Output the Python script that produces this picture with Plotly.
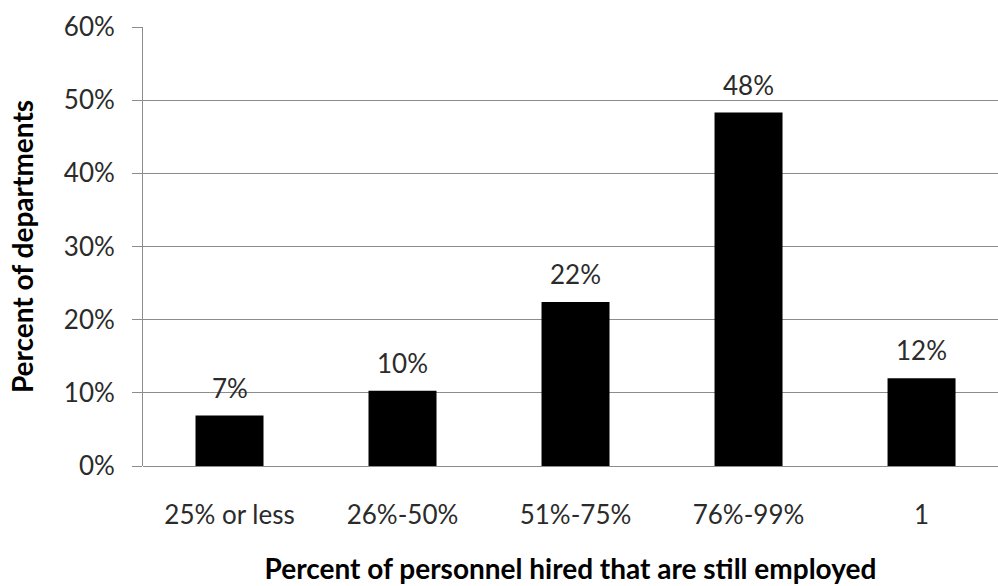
import plotly.graph_objects as go

categories = ["25% or less", "26%-50%", "51%-75%", "76%-99%", "1"]
share_of_departments = [0.069, 0.103, 0.224, 0.483, 0.120]
y_tick_values = [0, 0.1, 0.2, 0.3, 0.4, 0.5, 0.6]
y_tick_labels = ["0%", "10%", "20%", "30%", "40%", "50%", "60%"]

FONT = "Lato"
TEXT_COLOR = "#2b2b2b"
GRID_COLOR = "#8c8c8c"
TICK_SIZE = 26
TITLE_SIZE = 28

fig = go.Figure()
fig.add_trace(go.Bar(
    x=list(range(len(categories))),
    y=share_of_departments,
    marker=dict(color="black", line=dict(width=0)),
    width=0.393,
    showlegend=False,
    hoverinfo="skip",
))

# value labels above each bar
for i, v in enumerate(share_of_departments):
    fig.add_annotation(
        x=i, y=v, xref="x", yref="y",
        text=f"{round(v * 100):.0f}%",
        showarrow=False, yanchor="middle", yshift=28,
        font=dict(family=FONT, size=TICK_SIZE, color=TEXT_COLOR),
    )

fig.update_layout(
    width=998, height=586,
    margin=dict(l=143, r=0, t=27, b=120),
    paper_bgcolor="white", plot_bgcolor="white",
    font=dict(family=FONT, size=TICK_SIZE, color=TEXT_COLOR),
)

fig.update_xaxes(
    range=[-0.5, 4.442],
    tickvals=list(range(len(categories))),
    ticktext=categories,
    ticks="", showgrid=False, zeroline=False,
    showline=False,
    ticklabelstandoff=31,
    tickfont=dict(family=FONT, size=TICK_SIZE, color=TEXT_COLOR),
    title=dict(text="<b>Percent of personnel hired that are still employed</b>",
               font=dict(family=FONT, size=TITLE_SIZE, color="black"), standoff=30),
)

fig.update_yaxes(
    range=[0, 0.6],
    tickvals=y_tick_values, ticktext=y_tick_labels,
    ticks="outside", ticklen=10, tickcolor=GRID_COLOR, tickwidth=1,
    showgrid=True, gridcolor=GRID_COLOR, gridwidth=1,
    showline=True, linecolor=GRID_COLOR, linewidth=1,
    zeroline=True, zerolinecolor=GRID_COLOR, zerolinewidth=1,
    ticklabelstandoff=12,
    tickfont=dict(family=FONT, size=TICK_SIZE, color=TEXT_COLOR),
    title=dict(text="<b>Percent of departments</b>",
               font=dict(family=FONT, size=TITLE_SIZE, color="black"), standoff=21),
)

fig.write_html("out.html")
